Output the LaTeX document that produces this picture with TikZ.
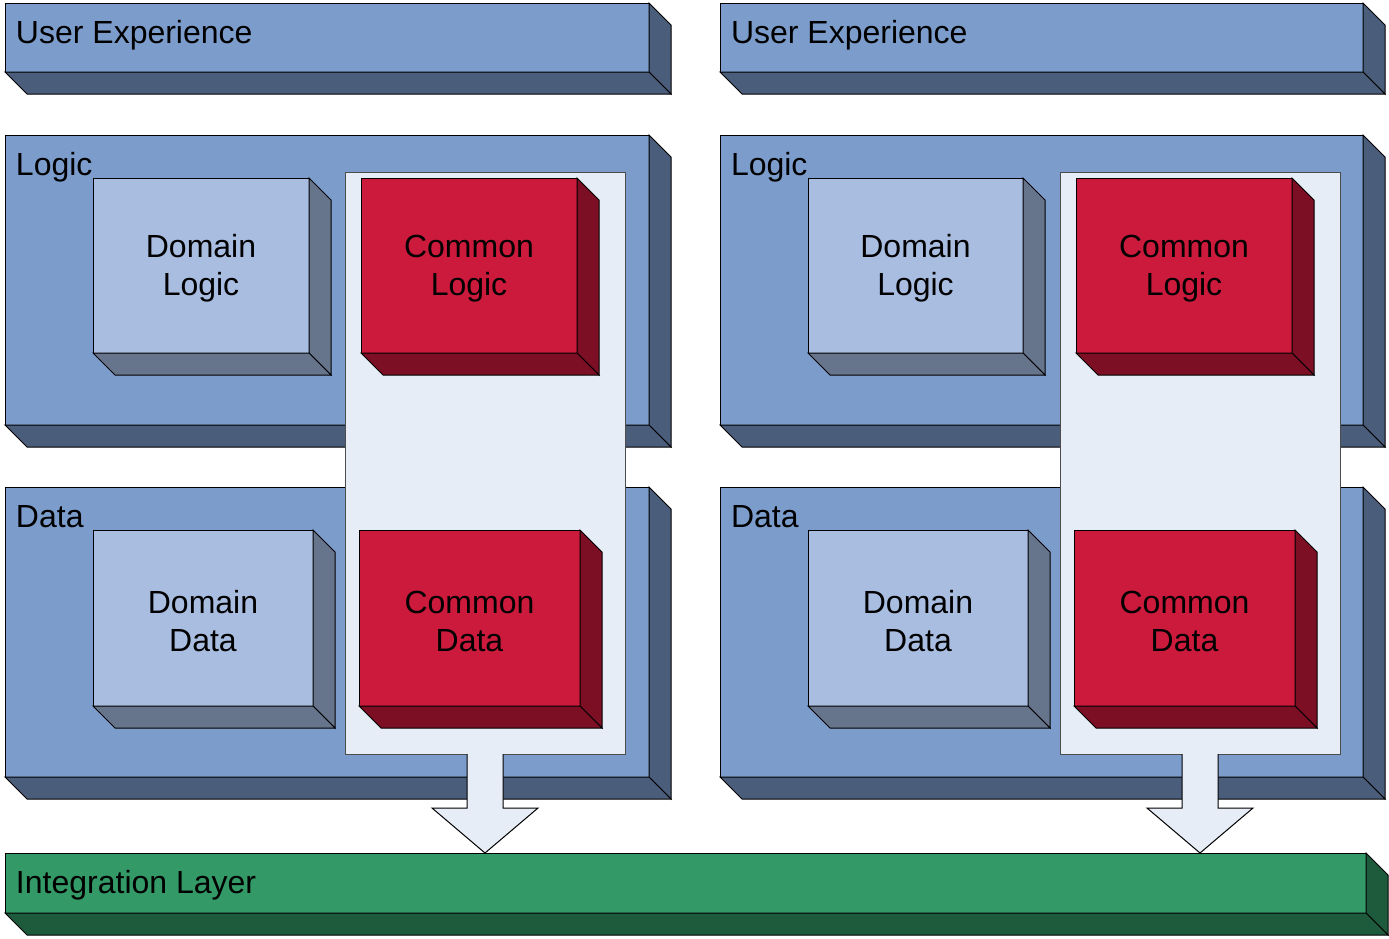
\documentclass[tikz,border=0pt]{standalone}
\usepackage{fontspec}
\setmainfont{Liberation Sans}
\definecolor{blueF}{HTML}{7C9DCC}
\definecolor{blueD}{HTML}{4A5D7B}
\definecolor{lightF}{HTML}{A9BDE1}
\definecolor{lightD}{HTML}{66758C}
\definecolor{redF}{HTML}{CC1A3D}
\definecolor{redD}{HTML}{7D0F25}
\definecolor{panelF}{HTML}{E6EDF7}
\definecolor{greenF}{HTML}{339966}
\definecolor{greenD}{HTML}{1E5A3C}
\newcommand\drop{\rule{0pt}{29pt}}
\tikzset{
  face/.style={draw=black, line width=1pt, inner sep=0pt, outer sep=0pt, anchor=north west,
    align=center, font=\fontsize{32}{38}\selectfont},
  inner/.style={face},
  sidef/.style={draw=black, line width=1pt, line join=miter},
  lbl/.style={anchor=base west, inner sep=0pt, outer sep=0pt, font=\fontsize{32}{38}\selectfont},
  panel/.style={draw=black!70, line width=1pt, fill=panelF, inner sep=0pt, outer sep=0pt, anchor=north west},
  bigarrow/.style={draw=black, line width=1pt, fill=panelF, line join=miter},
}
\newcommand\depthfaces[3]{%
  \filldraw[sidef, fill=#3] (#1.north east) -- ([shift={(#2,#2)}]#1.north east) -- ([shift={(#2,#2)}]#1.south east) -- (#1.south east) -- cycle;
  \filldraw[sidef, fill=#3] (#1.south west) -- (#1.south east) -- ([shift={(#2,#2)}]#1.south east) -- ([shift={(#2,#2)}]#1.south west) -- cycle;}
\begin{document}
\begin{tikzpicture}[x=1pt,y=-1pt]
\useasboundingbox (0,0) rectangle (1389,938);
% ---- User experience
\node[face, fill=blueF, minimum width=644pt, minimum height=69pt] (ux1) at (5,3) {};
\depthfaces{ux1}{22}{blueD}
\node[face, fill=blueF, minimum width=643pt, minimum height=69pt] (ux2) at (720,3) {};
\depthfaces{ux2}{22}{blueD}
\node[lbl] (ux1t) at (16,43) {User Experience};
\node[lbl] (ux2t) at (731,43) {User Experience};
% ---- Logic
\node[face, fill=blueF, minimum width=644pt, minimum height=290pt] (log1) at (5,135) {};
\depthfaces{log1}{22}{blueD}
\node[face, fill=blueF, minimum width=643pt, minimum height=290pt] (log2) at (720,135) {};
\depthfaces{log2}{22}{blueD}
\node[lbl] (log1t) at (16,175) {Logic};
\node[lbl] (log2t) at (731,175) {Logic};
% ---- Data
\node[face, fill=blueF, minimum width=644pt, minimum height=290pt] (dat1) at (5,487) {};
\depthfaces{dat1}{22}{blueD}
\node[face, fill=blueF, minimum width=643pt, minimum height=290pt] (dat2) at (720,487) {};
\depthfaces{dat2}{22}{blueD}
\node[lbl] (dat1t) at (16,527) {Data};
\node[lbl] (dat2t) at (731,527) {Data};
% ---- Integration
\node[face, fill=greenF, minimum width=1361pt, minimum height=60pt] (int) at (5,853) {};
\depthfaces{int}{22}{greenD}
\node[lbl] (intt) at (16,893) {Integration Layer};
% ---- panels
\node[panel, minimum width=280pt, minimum height=582pt] (pan1) at (345,172) {};
\node[panel, minimum width=280pt, minimum height=582pt] (pan2) at (1060,172) {};
% ---- domain boxes
\node[inner, fill=lightF, minimum width=216pt, minimum height=175pt] (dl1) at (93,178) {\drop Domain\\Logic};
\depthfaces{dl1}{22}{lightD}
\node[inner, fill=lightF, minimum width=215pt, minimum height=175pt] (dl2) at (808,178) {\drop Domain\\Logic};
\depthfaces{dl2}{22}{lightD}
\node[inner, fill=lightF, minimum width=220pt, minimum height=176pt] (dd1) at (93,530) {\drop Domain\\Data};
\depthfaces{dd1}{22}{lightD}
\node[inner, fill=lightF, minimum width=220pt, minimum height=176pt] (dd2) at (808,530) {\drop Domain\\Data};
\depthfaces{dd2}{22}{lightD}
% ---- common boxes
\node[inner, fill=redF, minimum width=216pt, minimum height=175pt] (cl1) at (361,178) {\drop Common\\Logic};
\depthfaces{cl1}{22}{redD}
\node[inner, fill=redF, minimum width=216pt, minimum height=175pt] (cl2) at (1076,178) {\drop Common\\Logic};
\depthfaces{cl2}{22}{redD}
\node[inner, fill=redF, minimum width=221pt, minimum height=176pt] (cd1) at (359,530) {\drop Common\\Data};
\depthfaces{cd1}{22}{redD}
\node[inner, fill=redF, minimum width=221pt, minimum height=176pt] (cd2) at (1074,530) {\drop Common\\Data};
\depthfaces{cd2}{22}{redD}
% ---- arrows
\coordinate (tip1) at (pan1.south |- int.north);
\coordinate (tip2) at (pan2.south |- int.north);
\filldraw[bigarrow] ([xshift=-18pt]pan1.south) -- ([shift={(-18,54)}]pan1.south) -- ([shift={(-53,54)}]pan1.south)
  -- (tip1) -- ([shift={(53,54)}]pan1.south) -- ([shift={(18,54)}]pan1.south) -- ([xshift=18pt]pan1.south);
\filldraw[bigarrow] ([xshift=-18pt]pan2.south) -- ([shift={(-18,54)}]pan2.south) -- ([shift={(-53,54)}]pan2.south)
  -- (tip2) -- ([shift={(53,54)}]pan2.south) -- ([shift={(18,54)}]pan2.south) -- ([xshift=18pt]pan2.south);
\end{tikzpicture}
\end{document}
